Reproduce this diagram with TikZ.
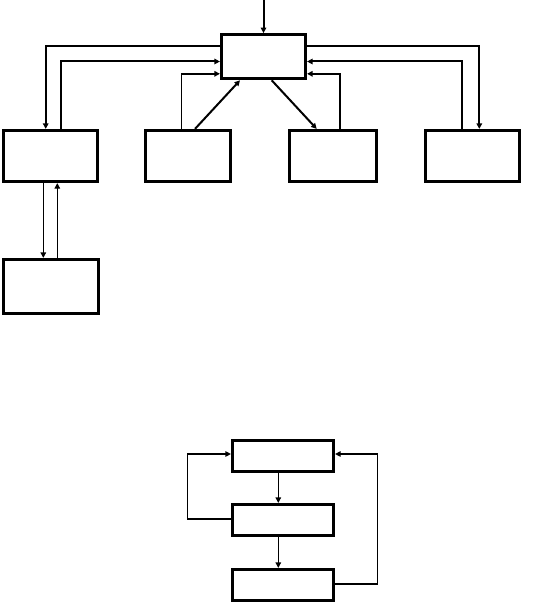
\documentclass[tikz,border=0pt]{standalone}
\usetikzlibrary{arrows.meta}
\begin{document}
\begin{tikzpicture}[x=1pt,y=-1pt,
  blk/.style={draw,line width=3.2pt,minimum width=#1,inner sep=0pt},
  tip/.style={-{Triangle[length=5.5pt,width=5.5pt]}},
  thk/.style={line width=2pt},
  med/.style={line width=1.5pt},
  thn/.style={line width=1.2pt}]
\useasboundingbox (0,0) rectangle (535,604);
% top diagram
\node[blk=84pt,minimum height=44pt] (top) at (263.5,56.7) {};
\node[blk=94pt,minimum height=51pt] (b1) at (50.5,156) {};
\node[blk=85pt,minimum height=51pt] (b2) at (188,156) {};
\node[blk=87pt,minimum height=51pt] (b3) at (333,156) {};
\node[blk=94pt,minimum height=51pt] (b4) at (472.5,156) {};
\node[blk=95pt,minimum height=54pt] (b5) at (51,286.5) {};
\coordinate (in) at (263.5,0);
\draw[thk,tip] (in) -- (top.north);
% left outer
\draw[thk,tip] ([yshift=-12.7pt]top.north west) -| ([xshift=-4.8pt]b1.north);
\draw[thk,tip] ([xshift=10.2pt]b1.north) |- ([yshift=-28.4pt]top.north west);
% right outer
\draw[thk,tip] ([yshift=-12.7pt]top.north east) -| ([xshift=6.8pt]b4.north);
\draw[thk,tip] ([xshift=-10.5pt]b4.north) |- ([yshift=-28.4pt]top.north east);
% inner
\draw[med,tip] ([xshift=-6.3pt]b2.north) |- ([yshift=-40.7pt]top.north west);
\draw[med,tip] ([xshift=7pt]b3.north) |- ([yshift=-40.7pt]top.north east);
% diagonals
\draw[thk,tip] ([xshift=7pt]b2.north) -- ([xshift=-23.5pt]top.south);
\draw[thk,tip] ([xshift=8.2pt]top.south) -- ([xshift=-16.3pt]b3.north);
% b1 <-> b5
\draw[thn,tip] ([xshift=-7.2pt]b1.south) -- ([xshift=-7.7pt]b5.north);
\draw[thn,tip] ([xshift=6.3pt]b5.north) -- ([xshift=6.8pt]b1.south);
% bottom diagram
\node[blk=101pt,minimum height=31pt] (ba) at (283,456) {};
\node[blk=101pt,minimum height=31pt] (bb) at (283,520) {};
\node[blk=101pt,minimum height=31pt] (bc) at (283,585) {};
\draw[thn,tip] ([xshift=-4.7pt]ba.south) -- ([xshift=-4.7pt]bb.north);
\draw[thn,tip] ([xshift=-4.7pt]bb.south) -- ([xshift=-4.7pt]bc.north);
\coordinate (lp) at (187.7,0);
\coordinate (rp) at (377.3,0);
\draw[thn,tip] ([yshift=1pt]bb.west) -- ([yshift=1pt]bb.west -| lp) |- ([yshift=2pt]ba.west);
\draw[thn,tip] ([yshift=1pt]bc.east) -- ([yshift=1pt]bc.east -| rp) |- ([yshift=2pt]ba.east);
\end{tikzpicture}
\end{document}
